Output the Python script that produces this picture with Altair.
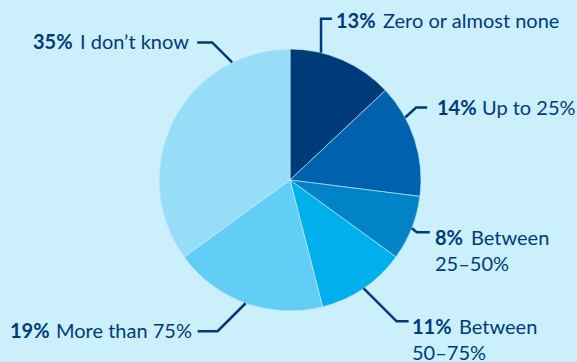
import math
import altair as alt
import pandas as pd

# ---- data ----
categories = ["Zero or almost none", "Up to 25%", "Between 25–50%",
              "Between 50–75%", "More than 75%", "I don’t know"]
shares = [13, 14, 8, 11, 19, 35]
pct_labels = ["13%", "14%", "8%", "11%", "19%", "35%"]
label_lines = [["Zero or almost none"], ["Up to 25%"], ["Between", "25–50%"],
               ["Between", "50–75%"], ["More than 75%"], ["I don’t know"]]
colors = ["#003B79", "#0062AF", "#0083C7", "#00B0EC", "#62CEF5", "#97DDF7"]

# ---- layout (annotation geometry) ----
W, H = 577, 362
CX, CY, R = 290, 180, 131
BG = "#CCEFFC"
INK = "#003B79"
FONT = "Lato"
FS = 20
LINE_H = 26
# leader: anchor angle on pie (deg, None = slice mid-angle), elbow offset, end length
leaders = [(13.7, (0, -34), 11), (61.5, (11, -10), 11), (None, (5, 4), 13),
           (None, (33, 33), 12), (None, (-28, 28), -20), (333.8, (-20, -20), -15)]
# label: bold x, regular x, baseline y
label_pos = [(336, 383, 28), (437, 482, 115), (435, 471, 245),
             (412, 459, 334), (10, 56, 338), (33, 80, 49)]

df = pd.DataFrame({"cat": categories, "share": shares, "order": range(len(shares))})

total = sum(shares)
line_rows, bold_rows, reg_rows = [], [], []
cum = 0
for i, s in enumerate(shares):
    mid = (cum + s / 2) / total * 360
    cum += s
    ang, (dx, dy), L = leaders[i]
    a = math.radians(mid if ang is None else ang)
    x0, y0 = CX + R * math.sin(a), CY - R * math.cos(a)
    x1, y1 = x0 + dx, y0 + dy
    x2, y2 = x1 + L, y1
    for k, (xx, yy) in enumerate([(x0, y0), (x1, y1), (x2, y2)]):
        line_rows.append({"id": i, "k": k, "x": xx, "y": yy})
    bx, rx, by = label_pos[i]
    bold_rows.append({"x": bx, "y": by, "t": pct_labels[i]})
    for j, t in enumerate(label_lines[i]):
        reg_rows.append({"x": rx if j == 0 else bx, "y": by + j * LINE_H, "t": t})

xs = alt.Scale(domain=[0, W], range=[0, W])
ys = alt.Scale(domain=[0, H], range=[0, H])

pie = alt.Chart(df).mark_arc(outerRadius=R, stroke=BG, strokeWidth=0.6).encode(
    theta=alt.Theta("share:Q", stack=True),
    order=alt.Order("order:Q"),
    color=alt.Color("cat:N", scale=alt.Scale(domain=categories, range=colors), legend=None),
    x=alt.value(CX), y=alt.value(CY),
)

lines = alt.Chart(pd.DataFrame(line_rows)).mark_line(
    color=INK, strokeWidth=2.5, strokeJoin="miter").encode(
    x=alt.X("x:Q", scale=xs, axis=None),
    y=alt.Y("y:Q", scale=ys, axis=None),
    detail="id:N", order="k:Q",
)

bold = alt.Chart(pd.DataFrame(bold_rows)).mark_text(
    align="left", baseline="alphabetic", font=FONT, fontSize=FS,
    fontWeight="bold", color=INK).encode(
    x=alt.X("x:Q", scale=xs, axis=None), y=alt.Y("y:Q", scale=ys, axis=None), text="t:N")

reg = alt.Chart(pd.DataFrame(reg_rows)).mark_text(
    align="left", baseline="alphabetic", font=FONT, fontSize=FS,
    color=INK).encode(
    x=alt.X("x:Q", scale=xs, axis=None), y=alt.Y("y:Q", scale=ys, axis=None), text="t:N")

chart = alt.layer(pie, lines, bold, reg).properties(
    width=W, height=H, background=BG, padding=0,
    autosize=alt.AutoSizeParams(type="none"),
).configure_view(stroke=None)

chart.save("out.html", embed_options={"renderer": "svg", "actions": False})
